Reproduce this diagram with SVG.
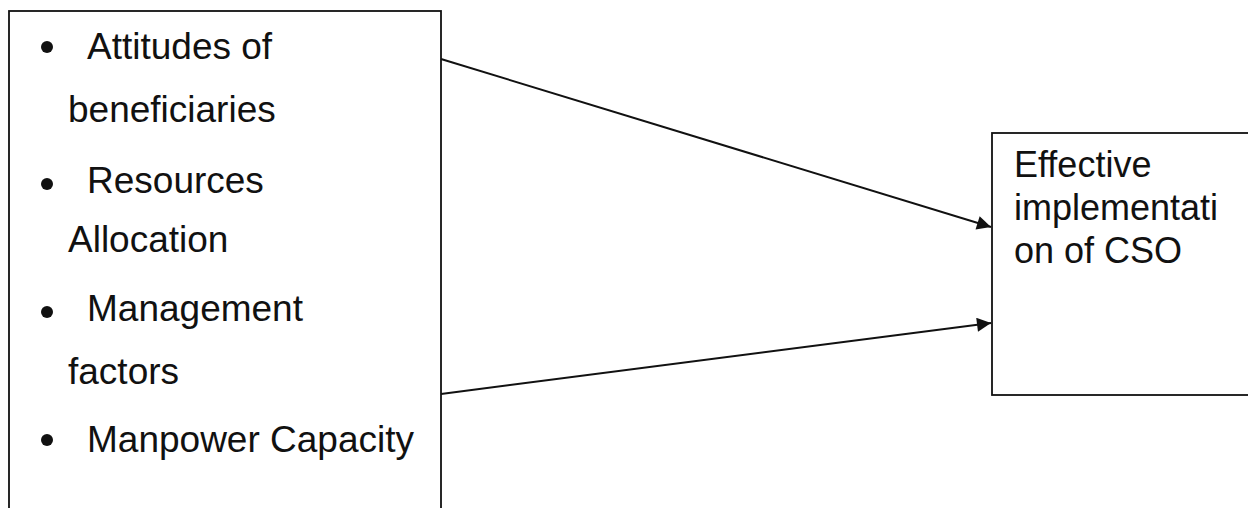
<svg xmlns="http://www.w3.org/2000/svg" width="1248" height="508" viewBox="0 0 1248 508">
<defs>
<style>
.box{fill:#fff;stroke:#111;stroke-width:1.8}
.t{font-family:"Liberation Sans",Arial,sans-serif;font-size:37px;fill:#111}
.t2{font-family:"Liberation Sans",Arial,sans-serif;font-size:36px;fill:#111}
.conn{stroke:#111;stroke-width:2;fill:none}
</style>
<marker id="ah" viewBox="0 0 10 10" refX="10" refY="5" markerWidth="16" markerHeight="14" markerUnits="userSpaceOnUse" orient="auto">
<path d="M0,0 L10,5 L0,10 z" fill="#111"/>
</marker>
</defs>
<rect width="1248" height="508" fill="#fff"/>
<g id="factors">
<rect class="box" x="9" y="11" width="432" height="510"/>
<circle cx="47" cy="47" r="6" fill="#111"/>
<circle cx="47" cy="184" r="6" fill="#111"/>
<circle cx="47" cy="312" r="6" fill="#111"/>
<circle cx="47" cy="440" r="6" fill="#111"/>
<text class="t" x="87" y="59">Attitudes of</text>
<text class="t" x="68" y="122">beneficiaries</text>
<text class="t" x="87" y="193">Resources</text>
<text class="t" x="68" y="252">Allocation</text>
<text class="t" x="87" y="321">Management</text>
<text class="t" x="68" y="384">factors</text>
<text class="t" x="87" y="452">Manpower Capacity</text>
</g>
<g id="outcome">
<rect class="box" x="992" y="133" width="270" height="262"/>
<text class="t2" x="1014" y="177">Effective</text>
<text class="t2" x="1014" y="220">implementati</text>
<text class="t2" x="1014" y="263">on of CSO</text>
</g>
<g id="connectors">
<line class="conn" x1="441" y1="59" x2="991" y2="227" marker-end="url(#ah)"/>
<line class="conn" x1="441" y1="394" x2="991" y2="323" marker-end="url(#ah)"/>
</g>
</svg>
